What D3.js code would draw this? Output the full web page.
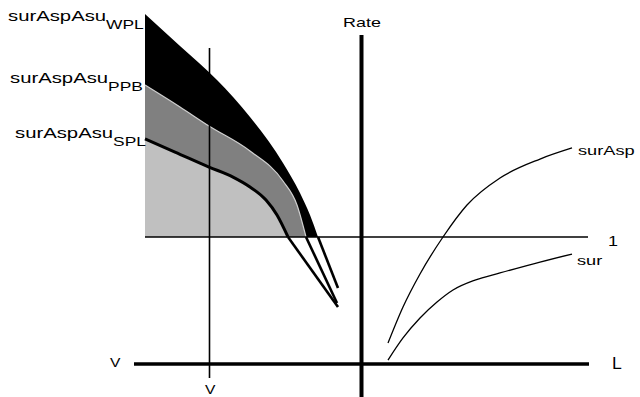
<!DOCTYPE html>
<html>
<head>
<meta charset="utf-8">
<script src="https://cdn.jsdelivr.net/npm/d3@7"></script>
<style>
  body { margin:0; background:#fff; }
  svg text { font-family: "Liberation Sans", Arial, sans-serif; fill:#000; }
</style>
</head>
<body>
<svg id="chart" width="640" height="397"></svg>
<script>
// left panel curves (x = V, y = rate, 1 = reference line)
var wplX = [-4.3, -3.6, -2.86, -2.2, -1.54, -1.2, -1.0, -0.84, -0.44]
var wplY = [2.756, 2.504, 2.236, 1.945, 1.583, 1.346, 1.173, 1.0, 0.598]
var ppbX = [-4.3, -3.6, -3.02, -2.2, -1.54, -1.26, -1.08, -0.46]
var ppbY = [2.197, 2.024, 1.874, 1.677, 1.441, 1.252, 1.0, 0.48]
var splX = [-4.3, -3.7, -3.02, -2.54, -2.2, -1.88, -1.66, -1.44, -0.44]
var splY = [1.772, 1.669, 1.551, 1.472, 1.394, 1.291, 1.173, 1.0, 0.449]

// right panel curves (x = L)
var surAspX = [0.56, 0.86, 1.2, 1.66, 2.14, 2.8, 3.6, 4.24]
var surAspY = [0.165, 0.449, 0.709, 1.0, 1.252, 1.465, 1.614, 1.701]
var surX = [0.56, 0.86, 1.2, 1.54, 1.86, 2.3, 2.8, 3.6, 4.24]
var surY = [0.031, 0.205, 0.362, 0.488, 0.583, 0.661, 0.717, 0.803, 0.866]

var curveNames = ["WPL", "PPB", "SPL"]
var labelMain = "surAspAsu"

var svg = d3.select("#chart")

var xScale = d3.scaleLinear().domain([0, 1]).range([360, 410])
var yScale = d3.scaleLinear().domain([0, 1]).range([364, 237])

function pts(xs, ys) {
  return xs.map(function(x, i) { return {x: x, y: ys[i]}; });
}

var wpl = pts(wplX, wplY), ppb = pts(ppbX, ppbY), spl = pts(splX, splY)

var line = d3.line()
    .x(function(d) { return xScale(d.x); })
    .y(function(d) { return yScale(d.y); })
    .curve(d3.curveMonotoneX)

var straight = d3.line()
    .x(function(d) { return xScale(d.x); })
    .y(function(d) { return yScale(d.y); })

var area = d3.area()
    .x(function(d) { return xScale(d.x); })
    .y0(yScale(1))
    .y1(function(d) { return yScale(d.y); })
    .curve(d3.curveMonotoneX)

function above(a) { return a.filter(function(d) { return d.y >= 1; }); }
function below(a) { return a.filter(function(d) { return d.y <= 1; }); }

// stacked fills, clipped at the "1" line
svg.append("path").datum(above(wpl)).attr("fill", "#000").attr("d", area)
svg.append("path").datum(above(ppb)).attr("fill", "#808080").attr("d", area)
svg.append("path").datum(above(spl)).attr("fill", "#c0c0c0").attr("d", area)

svg.append("path").datum(above(ppb))
    .attr("fill", "none").attr("stroke", "#d0d0d0").attr("stroke-width", 1.2)
    .attr("d", line)
svg.append("path").datum(above(spl))
    .attr("fill", "none").attr("stroke", "#000").attr("stroke-width", 3)
    .attr("d", line)

// continuations below the reference line
;[wpl, ppb, spl].forEach(function(c) {
  svg.append("path").datum(below(c))
      .attr("fill", "none").attr("stroke", "#000").attr("stroke-width", 2.6)
      .attr("d", straight)
})

// reference line "1"
svg.append("line")
    .attr("x1", xScale(-4.3)).attr("x2", xScale(4.56))
    .attr("y1", yScale(1)).attr("y2", yScale(1))
    .attr("stroke", "#000").attr("stroke-width", 1.5)

// thin V line
svg.append("line")
    .attr("x1", xScale(-3.01)).attr("x2", xScale(-3.01))
    .attr("y1", yScale(2.488)).attr("y2", yScale(-0.11))
    .attr("stroke", "#000").attr("stroke-width", 1.6)

// thick axes
svg.append("line")
    .attr("x1", xScale(-4.52)).attr("x2", xScale(4.58))
    .attr("y1", yScale(0)).attr("y2", yScale(0))
    .attr("stroke", "#000").attr("stroke-width", 3.4)
svg.append("line")
    .attr("x1", xScale(0.03)).attr("x2", xScale(0.03))
    .attr("y1", yScale(2.59)).attr("y2", yScale(-0.3))
    .attr("stroke", "#000").attr("stroke-width", 4)

// right curves
svg.append("path").datum(pts(surAspX, surAspY))
    .attr("fill", "none").attr("stroke", "#000").attr("stroke-width", 1.3)
    .attr("d", line)
svg.append("path").datum(pts(surX, surY))
    .attr("fill", "none").attr("stroke", "#000").attr("stroke-width", 1.3)
    .attr("d", line)

// labels (the original lettering is stretched horizontally)
function label(x, y, txt, sx, size, sub) {
  var t = svg.append("text")
      .attr("transform", "translate(" + x + "," + y + ") scale(" + sx + ",1)")
      .attr("font-size", size)
      .text(txt)
  if (sub) t.append("tspan").attr("dy", 8).attr("font-size", 12).text(sub)
  return t
}

var leftLabelPos = [[8, 21], [10, 83], [15, 138]]
curveNames.forEach(function(n, i) {
  label(leftLabelPos[i][0], leftLabelPos[i][1], labelMain, 1.45, 14, n)
})

label(343, 27, "Rate", 1.38, 13)
label(578, 155, "surAsp", 1.4, 13)
label(608, 246, "1", 1.2, 15)
label(577, 265, "sur", 1.4, 13)
label(110, 367, "V", 1.2, 13)
label(205, 394, "V", 1.2, 13)
label(612, 369, "L", 1.1, 16)
</script>
</body>
</html>
